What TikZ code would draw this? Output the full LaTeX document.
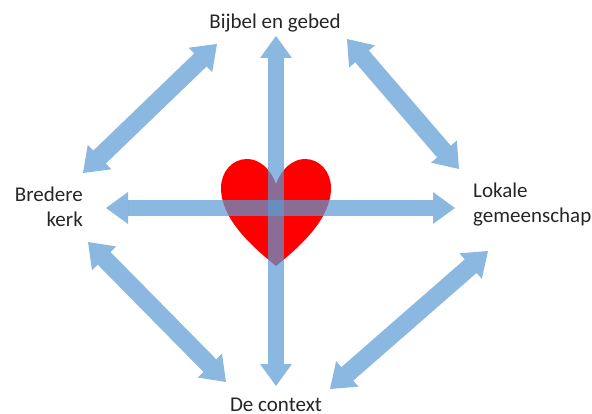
\documentclass[tikz,border=0pt]{standalone}
\usepackage{fontspec}
\setmainfont{Carlito}
\usetikzlibrary{arrows.meta}
\definecolor{flow}{HTML}{5B9BD5}
\tikzset{
  flowarrow/.style={draw=flow,opacity=0.7,line width=16pt,line cap=butt,
    {Triangle[length=22pt,width=32pt,line width=0pt,fill=flow]}-{Triangle[length=22pt,width=32pt,line width=0pt,fill=flow]}},
  diagarrow/.style={draw=flow,opacity=0.7,line width=18pt,line cap=butt,
    {Triangle[length=23pt,width=34pt,line width=0pt,fill=flow]}-{Triangle[length=23pt,width=34pt,line width=0pt,fill=flow]}},
  lab/.style={font=\fontsize{21pt}{25pt}\selectfont,text=black!85,inner sep=0pt},
}
\begin{document}
\begin{tikzpicture}[x=1pt,y=-1pt]
\useasboundingbox (0,0) rectangle (592,414);
\fill[white] (0,0) rectangle (592,414);
\fill[red] (276,184) .. controls (270,168) and (259,159) .. (247,159)
  .. controls (232,159) and (221,172) .. (221,188)
  .. controls (221,220) and (254,248) .. (276,266)
  .. controls (298,248) and (331,220) .. (331,188)
  .. controls (331,172) and (320,159) .. (305,159)
  .. controls (293,159) and (282,168) .. (276,184) -- cycle;
\node[lab,anchor=base] (top) at (275,29) {Bijbel en gebed};
\node[lab,anchor=base] (bottom) at (276,411) {De context};
\node[lab,align=right,anchor=east] (left) at (83,207) {Bredere\\kerk};
\node[lab,align=left,anchor=west] (right) at (473,205) {Lokale\\gemeenschap};
\coordinate (vt) at (276,36);
\coordinate (vb) at (276,386);
\coordinate (hl) at (106,208);
\coordinate (hr) at (455,208);
\coordinate (tl1) at (217,44);
\coordinate (tl2) at (83,173);
\coordinate (tr1) at (347,39);
\coordinate (tr2) at (459,169);
\coordinate (bl1) at (88,242);
\coordinate (bl2) at (226,382);
\coordinate (br1) at (488,251);
\coordinate (br2) at (330,389);
\draw[flowarrow] (vt) -- (vb);
\draw[flowarrow] (hl) -- (hr);
\draw[diagarrow] (tl1) -- (tl2);
\draw[diagarrow] (tr1) -- (tr2);
\draw[diagarrow] (bl1) -- (bl2);
\draw[diagarrow] (br1) -- (br2);
\end{tikzpicture}
\end{document}
